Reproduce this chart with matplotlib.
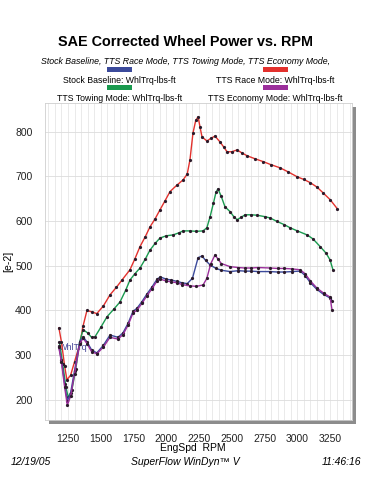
import matplotlib
matplotlib.use("Agg")
import matplotlib.pyplot as plt
from matplotlib.patches import Rectangle
from matplotlib.ticker import MultipleLocator

plt.rcParams['font.family'] = ['Liberation Sans', 'DejaVu Sans']

# Stock Baseline
stock_rpm = [1180, 1200, 1225, 1245, 1270, 1300, 1340, 1365, 1395, 1430, 1470, 1520, 1571,
             1632, 1670, 1710, 1746, 1777, 1815, 1853, 1890, 1930, 1955, 2000, 2040, 2082,
             2120, 2160, 2200, 2243, 2273, 2300, 2334, 2380, 2420, 2487, 2550, 2600, 2650,
             2700, 2792, 2850, 2900, 2960, 3022, 3060, 3100, 3150, 3200, 3250, 3265]
stock_trq = [320, 290, 235, 197, 215, 265, 330, 341, 330, 312, 305, 322, 345,
             340, 350, 372, 398, 405, 420, 437, 452, 470, 475, 470, 468, 465,
             462, 460, 472, 518, 522, 512, 502, 494, 490, 487, 489, 488, 488,
             487, 487, 486, 486, 487, 488, 478, 462, 447, 436, 428, 422]

# TTS Race Mode
race_rpm = [1181, 1200, 1225, 1242, 1270, 1300, 1342, 1365, 1395, 1430, 1470, 1520, 1571,
            1620, 1662, 1723, 1760, 1800, 1840, 1876, 1915, 1952, 1990, 2029, 2080, 2128,
            2160, 2181, 2204, 2225, 2243, 2258, 2273, 2311, 2340, 2372, 2410, 2440, 2464,
            2500, 2540, 2580, 2617, 2680, 2739, 2800, 2869, 2930, 2999, 3050, 3098, 3150,
            3197, 3250, 3304]
race_trq = [361, 330, 275, 245, 255, 285, 327, 365, 400, 397, 393, 410, 435,
            452, 468, 491, 515, 543, 565, 587, 605, 625, 645, 666, 680, 692,
            705, 737, 797, 825, 833, 810, 788, 779, 785, 790, 777, 765, 755,
            755, 759, 752, 746, 739, 733, 726, 719, 710, 699, 693, 686, 676,
            663, 648, 628]

# TTS Towing Mode
tow_rpm = [1185, 1210, 1235, 1252, 1280, 1310, 1340, 1365, 1400, 1430, 1456, 1500, 1548,
           1600, 1647, 1690, 1723, 1760, 1800, 1840, 1876, 1915, 1952, 2000, 2052, 2100,
           2128, 2180, 2230, 2281, 2310, 2334, 2360, 2380, 2395, 2420, 2448, 2487, 2515,
           2540, 2570, 2601, 2650, 2693, 2750, 2792, 2846, 2900, 2945, 3000, 3075, 3120,
           3174, 3220, 3250, 3273]
tow_trq = [330, 280, 228, 206, 222, 270, 330, 357, 350, 340, 341, 362, 386,
           403, 419, 445, 468, 482, 495, 515, 535, 550, 562, 567, 569, 574,
           578, 578, 577, 578, 585, 609, 640, 665, 672, 655, 632, 621, 610,
           603, 608, 614, 614, 613, 610, 607, 599, 592, 585, 578, 569, 560,
           543, 528, 513, 490]

# TTS Economy Mode
eco_rpm = [1180, 1200, 1225, 1245, 1270, 1300, 1340, 1365, 1395, 1430, 1470, 1520, 1571,
           1632, 1670, 1710, 1746, 1777, 1815, 1853, 1890, 1930, 1955, 2000, 2040, 2082,
           2120, 2181, 2230, 2281, 2310, 2340, 2372, 2395, 2420, 2487, 2550, 2600, 2650,
           2700, 2792, 2850, 2900, 2960, 3022, 3060, 3100, 3150, 3200, 3250, 3265]
eco_trq = [318, 285, 228, 188, 208, 258, 325, 338, 326, 308, 303, 318, 340,
           336, 346, 368, 394, 401, 416, 433, 448, 466, 470, 466, 464, 462,
           458, 455, 454, 457, 472, 505, 524, 515, 505, 498, 496, 495, 495,
           496, 495, 494, 494, 493, 491, 482, 466, 450, 439, 430, 401]

series_names = ['Stock Baseline: WhlTrq-lbs-ft', 'TTS Race Mode: WhlTrq-lbs-ft',
                'TTS Towing Mode: WhlTrq-lbs-ft', 'TTS Economy Mode: WhlTrq-lbs-ft']
series_colors = ['#3b4a9b', '#e3312d', '#1a9a4f', '#9b2f9b']
x_ticks = [1250, 1500, 1750, 2000, 2250, 2500, 2750, 3000, 3250]
y_ticks = [200, 300, 400, 500, 600, 700, 800]

fig = plt.figure(figsize=(3.71, 4.95), dpi=100)
ax = fig.add_axes([0.121, 0.1515, 0.828, 0.6404])

# drop shadow behind the plot frame
shadow = Rectangle((0.121 + 0.011, 0.1515 - 0.008), 0.828, 0.6404,
                   transform=fig.transFigure, facecolor='#8c8c8c', edgecolor='none', zorder=0)
fig.patches.append(shadow)
ax.set_facecolor('white')
ax.set_zorder(1)

data = [(stock_rpm, stock_trq), (race_rpm, race_trq), (tow_rpm, tow_trq), (eco_rpm, eco_trq)]
order = [1, 2, 0, 3]
for i in order:
    rpm, trq = data[i]
    ax.plot(rpm, trq, color=series_colors[i], lw=1.0, marker='o', ms=1.3,
            mfc='#2b1a2a', mec='#2b1a2a', zorder=3)

ax.text(1182, 318, 'WhlTrq', color='#4a4a9a', fontsize=6.5, va='center', ha='left', zorder=2)

ax.set_xlim(1074, 3418)
ax.set_ylim(155, 864)
ax.set_xticks(x_ticks)
ax.set_yticks(y_ticks)
ax.xaxis.set_minor_locator(MultipleLocator(50))
ax.yaxis.set_minor_locator(MultipleLocator(20))
ax.grid(which='minor', axis='x', color='#e6e6e6', lw=0.6)
ax.grid(which='major', axis='x', color='#e6e6e6', lw=0.6)
ax.grid(which='major', axis='y', color='#dcdcdc', lw=0.6)
ax.set_axisbelow(True)
ax.tick_params(axis='both', which='both', length=0, labelsize=7.5, colors='#222222')
ax.tick_params(axis='y', pad=9)
ax.tick_params(axis='x', pad=10)
for s in ax.spines.values():
    s.set_color('#cfcfcf')
    s.set_linewidth(0.6)

ax.set_ylabel('[e-2]', fontsize=7.5, labelpad=1)
fig.text(0.52, 0.094, 'EngSpd  RPM', fontsize=7.5, ha='center', va='center')

fig.text(0.5, 0.915, 'SAE Corrected Wheel Power vs. RPM', fontsize=10.4, fontweight='bold',
         ha='center', va='center')
fig.text(0.5, 0.875, 'Stock Baseline, TTS Race Mode, TTS Towing Mode, TTS Economy Mode,',
         fontsize=6.3, style='italic', ha='center', va='center')

# legend: coloured bar above each label, two columns
leg_x = [0.322, 0.743, 0.322, 0.743]
leg_y = [0.838, 0.838, 0.802, 0.802]
for i in range(4):
    fig.patches.append(Rectangle((leg_x[i] - 0.034, leg_y[i] + 0.016), 0.068, 0.01,
                                 transform=fig.transFigure, facecolor=series_colors[i],
                                 edgecolor='none'))
    fig.text(leg_x[i], leg_y[i], series_names[i], fontsize=6.3, ha='center', va='center')

fig.text(0.03, 0.067, '12/19/05', fontsize=7.5, style='italic', ha='left', va='center')
fig.text(0.5, 0.067, 'SuperFlow WinDyn\u2122 V', fontsize=7.5, style='italic', ha='center', va='center')
fig.text(0.975, 0.067, '11:46:16', fontsize=7.5, style='italic', ha='right', va='center')

fig.savefig('out.png', dpi=100)
